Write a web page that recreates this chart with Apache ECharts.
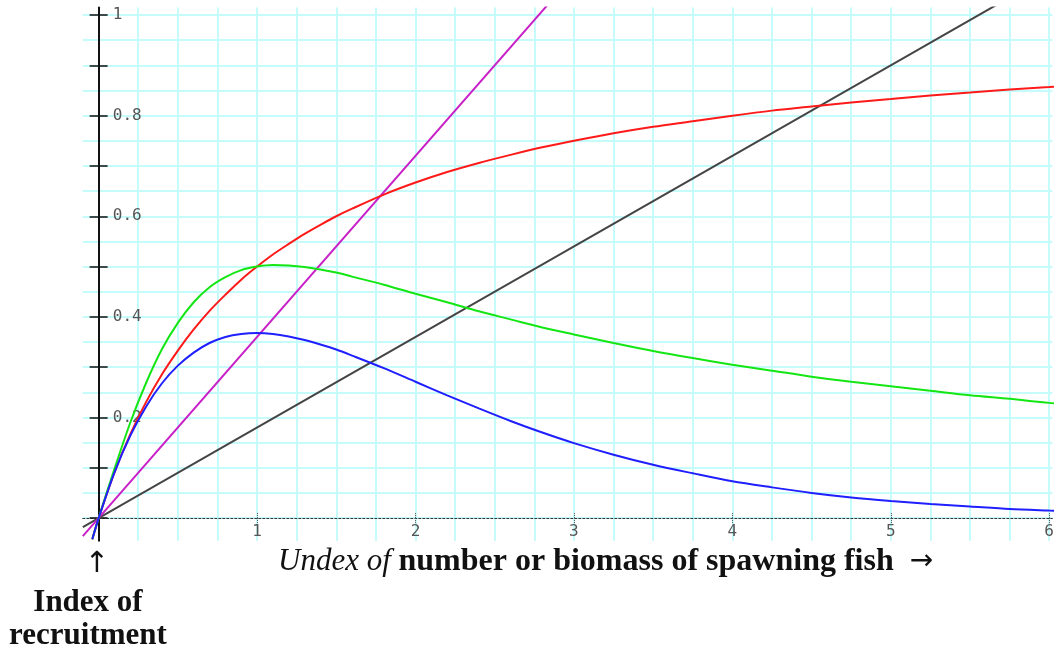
<!DOCTYPE html>
<html>
<head>
<meta charset="utf-8">
<script src="https://cdn.jsdelivr.net/npm/echarts@6/dist/echarts.min.js"></script>
<style>
  html, body { margin: 0; padding: 0; background: #fff; }
  #chart { width: 1057px; height: 649px; }
</style>
</head>
<body>
<div id="chart"></div>
<script>
// Spawning stock index (x) shared by the three recruitment curves
const spawners = [-0.04, 0, 0.1, 0.2, 0.3, 0.4, 0.5, 0.6, 0.7, 0.8, 0.9, 1.0, 1.1, 1.2, 1.3, 1.4, 1.5, 1.6,
  1.8, 2.0, 2.2, 2.4, 2.6, 2.8, 3.0, 3.25, 3.5, 3.75, 4.0, 4.25, 4.5, 4.75, 5.0, 5.25, 5.5, 5.75, 6.0, 6.1];

// Asymptotic (saturating) recruitment
const recruitRed = [-0.042, 0, 0.091, 0.167, 0.231, 0.286, 0.333, 0.375, 0.412, 0.444, 0.474, 0.5, 0.524, 0.545,
  0.565, 0.583, 0.6, 0.615, 0.643, 0.667, 0.688, 0.706, 0.722, 0.737, 0.75, 0.765, 0.778, 0.789, 0.8, 0.81,
  0.818, 0.826, 0.833, 0.84, 0.846, 0.852, 0.857, 0.859];

// Dome-shaped recruitment with a slow decline
const recruitGreen = [-0.042, 0, 0.098, 0.19, 0.269, 0.336, 0.388, 0.429, 0.459, 0.479, 0.493, 0.5, 0.503, 0.502,
  0.499, 0.494, 0.488, 0.48, 0.464, 0.446, 0.429, 0.411, 0.395, 0.379, 0.365, 0.348, 0.332, 0.318, 0.305, 0.293,
  0.281, 0.271, 0.262, 0.253, 0.244, 0.237, 0.229, 0.227];

// Dome-shaped recruitment with a steep decline
const recruitBlue = [-0.042, 0, 0.091, 0.164, 0.222, 0.268, 0.303, 0.329, 0.348, 0.36, 0.366, 0.368, 0.366, 0.361,
  0.354, 0.345, 0.335, 0.323, 0.298, 0.271, 0.244, 0.218, 0.193, 0.17, 0.149, 0.126, 0.106, 0.089, 0.073, 0.061,
  0.05, 0.041, 0.034, 0.028, 0.023, 0.018, 0.015, 0.014];

// Straight replacement lines through the origin: [x, y] end points
const lineSteep = [[-0.1, -0.036], [2.85, 1.026]];
const lineShallow = [[-0.1, -0.018], [5.7, 1.026]];

// Axis ticks and labels
const xGridValues = [0, 0.25, 0.5, 0.75, 1, 1.25, 1.5, 1.75, 2, 2.25, 2.5, 2.75, 3, 3.25, 3.5, 3.75, 4, 4.25,
  4.5, 4.75, 5, 5.25, 5.5, 5.75, 6];
const xLabelValues = [1, 2, 3, 4, 5, 6];
const yGridValues = [0, 0.05, 0.1, 0.15, 0.2, 0.25, 0.3, 0.35, 0.4, 0.45, 0.5, 0.55, 0.6, 0.65, 0.7, 0.75, 0.8,
  0.85, 0.9, 0.95, 1];
const yTickValues = [0, 0.1, 0.2, 0.3, 0.4, 0.5, 0.6, 0.7, 0.8, 0.9, 1];
const yLabelValues = [0.2, 0.4, 0.6, 0.8, 1];

const pairs = ys => spawners.map((x, i) => [x, ys[i]]);

const X_MIN = -0.1, X_MAX = 6.02, Y_MIN = -0.045, Y_MAX = 1.015;
const tickFont = { fontFamily: 'DejaVu Sans Mono', fontSize: 16, color: '#555' };
const hidden = 'rgba(0,0,0,0)';

// small dotted tick marks crossing the zero line at each integer
const xTickAxis = inside => ({
  type: 'value', min: X_MIN, max: X_MAX, position: 'bottom',
  axisLine: { show: true, onZero: true, onZeroAxisIndex: 0, lineStyle: { color: hidden } },
  axisTick: { show: true, customValues: xLabelValues, inside: inside, length: 5,
    lineStyle: { color: '#555', width: 1, type: [1, 1] } },
  axisLabel: { show: false },
  splitLine: { show: false }
});

const chart = echarts.init(document.getElementById('chart'), null, { renderer: 'canvas' });

chart.setOption({
  animation: false,
  backgroundColor: '#ffffff',
  grid: { left: 82.8, top: 7.5, width: 974.6, height: 533.2, containLabel: false },
  xAxis: [
    {
      type: 'value', min: X_MIN, max: X_MAX,
      axisLine: { show: true, onZero: true, onZeroAxisIndex: 0,
        lineStyle: { color: '#333', width: 1, type: [2, 2] } },
      axisTick: { show: false, customValues: xGridValues },
      axisLabel: { show: false },
      splitLine: { show: true, lineStyle: { color: '#c6fbfb', width: 2 } }
    },
    {
      // integer labels sit just under the zero line, inside the plot frame
      type: 'value', min: X_MIN, max: X_MAX, position: 'bottom',
      axisLine: { show: false, onZero: false },
      axisTick: { show: false },
      axisLabel: { show: true, customValues: xLabelValues, inside: true, margin: 1, ...tickFont },
      splitLine: { show: false }
    },
    xTickAxis(true),
    xTickAxis(false)
  ],
  yAxis: [
    {
      type: 'value', min: Y_MIN, max: Y_MAX,
      axisLine: { show: false, onZero: true, onZeroAxisIndex: 0 },
      axisTick: { show: false, customValues: yGridValues },
      axisLabel: { show: false },
      splitLine: { show: true, lineStyle: { color: '#c6fbfb', width: 2 } }
    },
    {
      type: 'value', min: Y_MIN, max: Y_MAX, position: 'left',
      axisLine: { show: true, onZero: true, onZeroAxisIndex: 0, lineStyle: { color: '#111', width: 2 } },
      axisTick: { show: true, customValues: yTickValues, inside: true, length: 9,
        lineStyle: { color: '#111', width: 1.5 } },
      axisLabel: { show: false },
      splitLine: { show: false }
    },
    {
      type: 'value', min: Y_MIN, max: Y_MAX, position: 'left',
      axisLine: { show: true, onZero: true, onZeroAxisIndex: 0, lineStyle: { color: hidden } },
      axisTick: { show: true, customValues: yTickValues, inside: false, length: 9,
        lineStyle: { color: '#111', width: 1.5 } },
      axisLabel: { show: false },
      splitLine: { show: false }
    },
    {
      // value labels just right of the vertical axis
      type: 'value', min: Y_MIN, max: Y_MAX, position: 'left',
      axisLine: { show: false, onZero: false },
      axisTick: { show: false },
      axisLabel: { show: true, customValues: yLabelValues, inside: true, margin: 30, ...tickFont },
      splitLine: { show: false }
    }
  ],
  series: [
    { type: 'line', name: 'shallow', data: lineShallow, showSymbol: false, clip: true,
      lineStyle: { color: '#444', width: 2 } },
    { type: 'line', name: 'steep', data: lineSteep, showSymbol: false, clip: true,
      lineStyle: { color: '#c81ec8', width: 2 } },
    { type: 'line', name: 'red', data: pairs(recruitRed), smooth: 0.3, showSymbol: false, clip: true,
      lineStyle: { color: '#ff1a1a', width: 2 } },
    { type: 'line', name: 'green', data: pairs(recruitGreen), smooth: 0.3, showSymbol: false, clip: true,
      lineStyle: { color: '#14e614', width: 2 } },
    { type: 'line', name: 'blue', data: pairs(recruitBlue), smooth: 0.3, showSymbol: false, clip: true,
      lineStyle: { color: '#1f1fff', width: 2 } }
  ],
  graphic: [
    {
      type: 'text', left: 278, top: 546,
      style: {
        text: '{i|Undex of }{b|number or biomass of spawning fish  }{a|→}',
        rich: {
          i: { fontFamily: 'Liberation Serif', fontStyle: 'italic', fontSize: 31, fill: '#111' },
          b: { fontFamily: 'Liberation Serif', fontWeight: 'bold', fontSize: 32, fill: '#111' },
          a: { fontFamily: 'DejaVu Sans', fontSize: 28, fill: '#111' }
        }
      }
    },
    {
      type: 'text', x: 97, y: 550,
      style: { text: '↑', align: 'center', verticalAlign: 'top', fontFamily: 'DejaVu Sans',
        fontSize: 29, fill: '#111' }
    },
    {
      type: 'text', x: 88, y: 586,
      style: {
        text: 'Index of\nrecruitment', align: 'center', verticalAlign: 'top', lineHeight: 33,
        fontFamily: 'Liberation Serif', fontWeight: 'bold', fontSize: 31, fill: '#111'
      }
    }
  ]
});
</script>
</body>
</html>
